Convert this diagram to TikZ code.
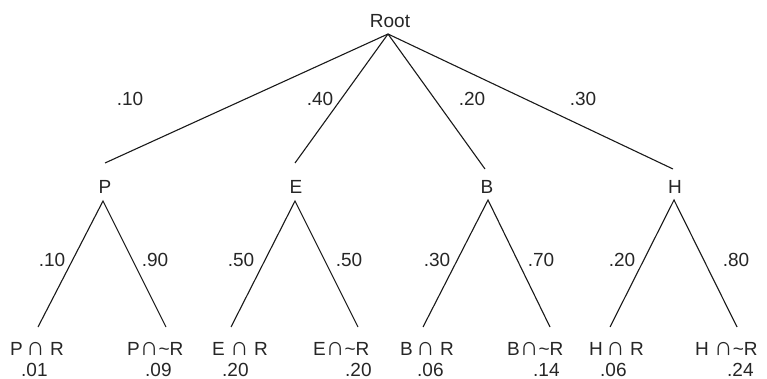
\documentclass[tikz,border=0pt]{standalone}
\usepackage{fontspec}
\setmainfont{Liberation Sans}
\newcommand\mycap{{\fontsize{26}{22}\selectfont ∩}}
\begin{document}
\begin{tikzpicture}[x=1pt,y=-1pt,
  lbl/.style={inner sep=0pt,anchor=base,font=\fontsize{19}{22}\selectfont,text=black!85},
  leaf/.style={inner sep=0pt,anchor=base west,font=\fontsize{19}{22}\selectfont,text=black!85},
  branch/.style={line width=1.1pt,draw=black!90}]
\useasboundingbox (0,0) rectangle (767,379);
% root
\node[lbl] (root) at (390,28) {Root};
\coordinate (r0) at (388,34);
% level-1 endpoints of root branches
\coordinate (eP) at (105,163);
\coordinate (eE) at (295,163);
\coordinate (eB) at (485,169);
\coordinate (eH) at (673,169);
\draw[branch] (r0) -- (eP);
\draw[branch] (r0) -- (eE);
\draw[branch] (r0) -- (eB);
\draw[branch] (r0) -- (eH);
\node[lbl] (l1) at (130,106) {.10};
\node[lbl] (l2) at (320,106) {.40};
\node[lbl] (l3) at (472,106) {.20};
\node[lbl] (l4) at (583,106) {.30};
% level-1 nodes
\node[lbl] (P) at (105,194) {P};
\node[lbl] (E) at (296,194) {E};
\node[lbl] (B) at (487,194) {B};
\node[lbl] (H) at (675,194) {H};
\coordinate (aP) at (103,201);
\coordinate (aE) at (295,201);
\coordinate (aB) at (488,200);
\coordinate (aH) at (674,200);
% leaf endpoints
\coordinate (f1) at (38,327);
\coordinate (f2) at (166,327);
\coordinate (f3) at (231,327);
\coordinate (f4) at (358,327);
\coordinate (f5) at (423,327);
\coordinate (f6) at (550,327);
\coordinate (f7) at (610,327);
\coordinate (f8) at (737,327);
\draw[branch] (f1) -- (aP) -- (f2);
\draw[branch] (f3) -- (aE) -- (f4);
\draw[branch] (f5) -- (aB) -- (f6);
\draw[branch] (f7) -- (aH) -- (f8);
% level-2 labels
\node[lbl] (m1) at (52,266) {.10};
\node[lbl] (m2) at (155,266) {.90};
\node[lbl] (m3) at (241,266) {.50};
\node[lbl] (m4) at (349,266) {.50};
\node[lbl] (m5) at (437,266) {.30};
\node[lbl] (m6) at (541,266) {.70};
\node[lbl] (m7) at (622,266) {.20};
\node[lbl] (m8) at (736,266) {.80};
% leaves
\node[leaf] (t1) at (10,355) {P\,\mycap\ R};
\node[leaf] (t2) at (127,355) {P\mycap\textasciitilde R};
\node[leaf] (t3) at (212,355) {E \mycap\ R};
\node[leaf] (t4) at (313,355) {E\mycap\textasciitilde R};
\node[leaf] (t5) at (400,355) {B\,\mycap\ R};
\node[leaf] (t6) at (507,355) {B\mycap\textasciitilde R};
\node[leaf] (t7) at (589,355) {H\,\mycap\ R};
\node[leaf] (t8) at (695,355) {H \mycap\textasciitilde R};
\node[leaf] (p1) at (21,376) {.01};
\node[leaf] (p2) at (145,376) {.09};
\node[leaf] (p3) at (222,376) {.20};
\node[leaf] (p4) at (345,376) {.20};
\node[leaf] (p5) at (417,376) {.06};
\node[leaf] (p6) at (533,376) {.14};
\node[leaf] (p7) at (600,376) {.06};
\node[leaf] (p8) at (727,376) {.24};
\end{tikzpicture}
\end{document}
